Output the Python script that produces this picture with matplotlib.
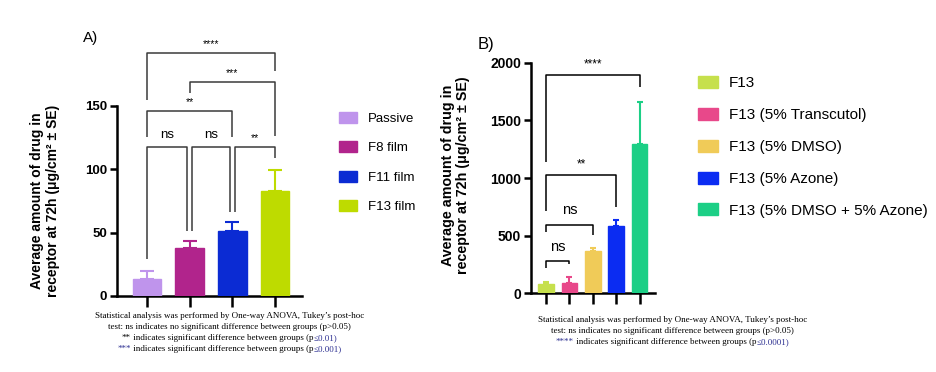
import matplotlib
matplotlib.use("Agg")
import matplotlib.pyplot as plt

# Datos del panel A
grupos_a = ["Passive", "F8 film", "F11 film", "F13 film"]
medias_a = [13, 37.5, 51.5, 83]
errores_a = [7, 6, 6.5, 16]
colores_a = ["#BF94EC", "#B1248C", "#0B2BD3", "#BEDB00"]
comparaciones_a = [(0, 3, "****"), (1, 3, "***"), (0, 2, "**"),
                   (0, 1, "ns"), (1, 2, "ns"), (2, 3, "**")]

# Datos del panel B
grupos_b = ["F13", "F13 (5% Transcutol)", "F13 (5% DMSO)",
            "F13 (5% Azone)", "F13 (5% DMSO + 5% Azone)"]
medias_b = [80, 89, 366, 582, 1297]
errores_b = [17, 49, 29, 50, 363]
colores_b = ["#C6E04C", "#E8488A", "#F0CB58", "#0B2CF2", "#1CCF86"]
comparaciones_b = [(0, 4, "****"), (0, 3, "**"), (0, 2, "ns"), (0, 1, "ns")]

ticks_a = [0, 50, 100, 150]
ticks_b = [0, 500, 1000, 1500, 2000]

etiqueta_y = "Average amount of drug in\nreceptor at 72h (\u03bcg/cm\u00b2 \u00b1 SE)"

plt.rcParams["font.family"] = ["Liberation Sans", "DejaVu Sans"]

ANCHO, ALTO = 936, 372
fig = plt.figure(figsize=(ANCHO / 100, ALTO / 100), dpi=100)


def caja(x0, y0, x1, y1):
    # rectangulo en pixeles (origen arriba a la izquierda) -> coordenadas de figura
    return [x0 / ANCHO, 1 - y1 / ALTO, (x1 - x0) / ANCHO, (y1 - y0) / ALTO]


def preparar(ax, n, xlim, ylim, ticks, tam):
    ax.set_xlim(xlim)
    ax.set_ylim(ylim)
    ax.spines["top"].set_visible(False)
    ax.spines["right"].set_visible(False)
    ax.spines["left"].set_bounds(0, ticks[-1])
    ax.spines["left"].set_linewidth(1.8)
    ax.spines["bottom"].set_linewidth(1.8)
    ax.set_xticks(range(n))
    ax.set_xticklabels([])
    ax.set_yticks(ticks)
    ax.tick_params(axis="x", length=8, width=1.8)
    ax.tick_params(axis="y", length=5, width=1.8, pad=2)
    for t in ax.get_yticklabels():
        t.set_fontweight("bold")
        t.set_fontsize(tam)


def barras(ax, medias, errores, colores, cap):
    x = list(range(len(medias)))
    b = ax.bar(x, medias, width=0.67, color=colores, edgecolor=colores, zorder=3)
    for i in x:
        ax.errorbar(i, medias[i], yerr=[[0], [errores[i]]], fmt="none",
                    ecolor=colores[i], elinewidth=1.5, capsize=cap, capthick=1.5, zorder=2)
    return b


def corchete(ax, x1, x2, y, y1, y2, texto, ty, color, tam):
    ax.plot([x1, x1, x2, x2], [y1, y, y, y2], color=color, lw=1.1, clip_on=False,
            solid_capstyle="butt")
    ax.text((x1 + x2) / 2, ty, texto, ha="center", va="center", fontsize=tam,
            color="black")


# ---------- Panel A ----------
ax_a = fig.add_axes(caja(117, 40, 302, 296))
preparar(ax_a, 4, (-0.71, 3.64), (0, 201.6), ticks_a, 9.5)
barras_a = barras(ax_a, medias_a, errores_a, colores_a, 5)

# altura de la linea, pie izquierdo, pie derecho, altura del texto, desplazamientos x
geom_a = [(191.6, 154.3, 177.4, 198.4, 0, 0),
          (168.7, 159.8, 126.0, 175.8, 0, 0),
          (145.9, 125.4, 125.4, 153.0, 0, 0),
          (117.0, 29.1, 51.2, 126.5, 0, -0.06),
          (117.0, 51.2, 66.1, 126.5, 0.06, -0.06),
          (117.0, 66.1, 108.7, 124.0, 0.06, 0)]
for (i, j, txt), (y, y1, y2, ty, d1, d2) in zip(comparaciones_a, geom_a):
    tam = 9.5 if txt == "ns" else 7.5
    corchete(ax_a, i + d1, j + d2, y, y1, y2, txt, ty, "#3a3a3a", tam)

fig.text(83 / ANCHO, 1 - 38 / ALTO, "A)", fontsize=11, va="center", ha="left")
fig.text(45 / ANCHO, 1 - 201 / ALTO, etiqueta_y, rotation=90, ha="center", va="center",
         fontsize=10, fontweight="bold", multialignment="center", linespacing=1.15)

fig.legend(barras_a.patches, grupos_a, loc="upper left",
           bbox_to_anchor=(339 / ANCHO, 1 - 112 / ALTO), frameon=False,
           borderpad=0, borderaxespad=0, handlelength=1.36, handleheight=0.88,
           handletextpad=0.8, labelspacing=1.25,
           prop={"size": 9.5})

# ---------- Panel B ----------
ax_b = fig.add_axes(caja(531, 55, 655, 293.3))
preparar(ax_b, 5, (-0.64, 4.66), (0, 2068), ticks_b, 10)
barras_b = barras(ax_b, medias_b, errores_b, colores_b, 2.5)

geom_b = [(1897, 1137, 1787, 1986),
          (1028, 714, 745, 1122),
          (597, 532, 508, 723),
          (277, 218, 251, 399)]
for (i, j, txt), (y, y1, y2, ty) in zip(comparaciones_b, geom_b):
    tam = 10.5 if txt == "ns" else 8.5
    corchete(ax_b, i, j, y, y1, y2, txt, ty, "black", tam)

fig.text(478 / ANCHO, 1 - 45 / ALTO, "B)", fontsize=12, va="center", ha="left")
fig.text(455.5 / ANCHO, 1 - 175 / ALTO, etiqueta_y, rotation=90, ha="center", va="center",
         fontsize=10.3, fontweight="bold", multialignment="center", linespacing=1.15)

fig.legend(barras_b.patches, grupos_b, loc="upper left",
           bbox_to_anchor=(698 / ANCHO, 1 - 76 / ALTO), frameon=False,
           borderpad=0, borderaxespad=0, handlelength=1.3, handleheight=0.83,
           handletextpad=0.72, labelspacing=1.15,
           prop={"size": 11})

# ---------- Notas al pie ----------
AZUL = "#2E3192"
estilo = {"family": "Liberation Serif", "fontsize": 6.45}
renderer = fig.canvas.get_renderer()


def ancho(s):
    t = fig.text(0, 0, s, **estilo)
    w = t.get_window_extent(renderer).width
    t.remove()
    return w


def nota(xc, y, partes):
    completo = "".join(p for p, c in partes)
    x0 = xc - ancho(completo) / 2
    acum = ""
    for p, c in partes:
        acum += p
        fig.text((x0 + ancho(acum)) / ANCHO, 1 - y / ALTO, p, color=c,
                 ha="right", va="center", **estilo)


linea1 = "Statistical analysis was performed by One-way ANOVA, Tukey\u2019s post-hoc"
linea2 = "test: ns indicates no significant difference between groups (p>0.05)"
texto_sig = " indicates significant difference between groups (p"

nota(229.5, 316, [(linea1, "black")])
nota(229.5, 327, [(linea2, "black")])
nota(229.5, 338, [("**", "black"), (texto_sig, "black"), ("\u22640.01)", AZUL)])
nota(229.5, 349, [("***", AZUL), (texto_sig, "black"), ("\u22640.001)", AZUL)])

nota(672.5, 320, [(linea1, "black")])
nota(672.5, 331, [(linea2, "black")])
nota(672.5, 342, [("****", AZUL), (texto_sig, "black"), ("\u22640.0001)", AZUL)])

fig.savefig("out.png", dpi=100)
